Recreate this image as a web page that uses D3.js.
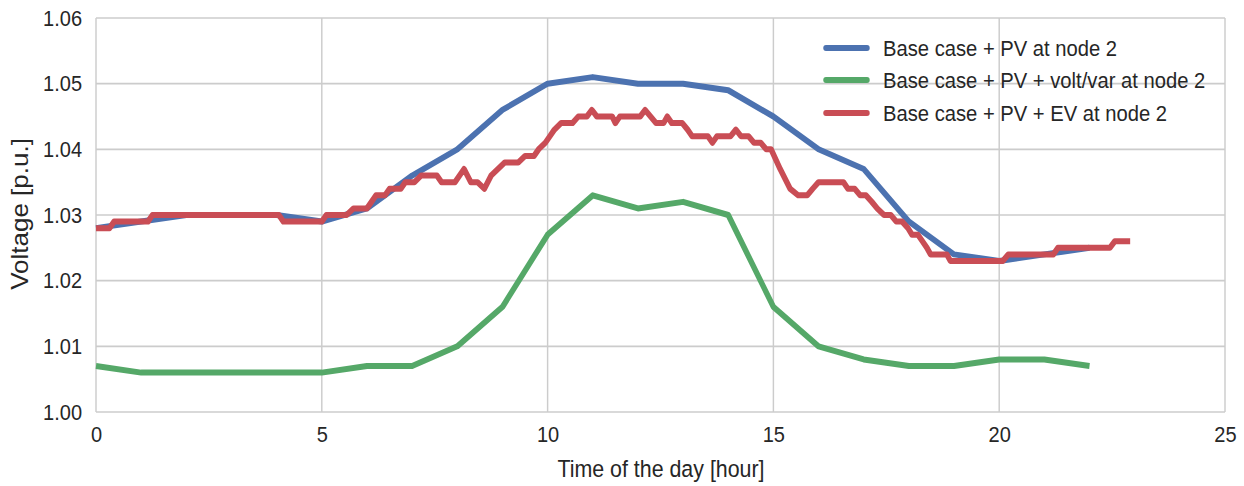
<!DOCTYPE html>
<html>
<head>
<meta charset="utf-8">
<script src="https://cdn.jsdelivr.net/npm/d3@7"></script>
<style>
  html, body { margin: 0; padding: 0; background: #fff; }
  svg { display: block; }
  text { font-family: "Liberation Sans", Arial, sans-serif; fill: #262626; }
</style>
</head>
<body>
<svg id="chart" width="1244" height="486"></svg>
<script>
// hourly series
var hours = [0, 1, 2, 3, 4, 5, 6, 7, 8, 9, 10, 11, 12, 13, 14, 15, 16, 17, 18, 19, 20, 21, 22];
var pvValues = [1.028, 1.029, 1.030, 1.030, 1.030, 1.029, 1.031, 1.036, 1.040, 1.046, 1.050, 1.051,
                1.050, 1.050, 1.049, 1.045, 1.040, 1.037, 1.029, 1.024, 1.023, 1.024, 1.025];
var voltVarValues = [1.007, 1.006, 1.006, 1.006, 1.006, 1.006, 1.007, 1.007, 1.010, 1.016, 1.027, 1.033,
                     1.031, 1.032, 1.030, 1.016, 1.010, 1.008, 1.007, 1.007, 1.008, 1.008, 1.007];

// EV case, finer time steps
var evHours = [0, 0.3, 0.4, 1.15, 1.25, 4.05, 4.15, 5.0, 5.1, 5.55, 5.7, 6.0, 6.1, 6.2, 6.4, 6.5, 6.75, 6.85,
               7.05, 7.2, 7.55, 7.65, 7.95, 8.15, 8.3, 8.45, 8.6, 8.75, 8.9, 9.05, 9.35, 9.5, 9.7, 9.8, 9.95,
               10.05, 10.15, 10.3, 10.55, 10.68, 10.87, 10.98, 11.09, 11.43, 11.5, 11.6, 12.05, 12.16, 12.28,
               12.4, 12.57, 12.65, 12.75, 12.98, 13.1, 13.2, 13.55, 13.65, 13.75, 14.05, 14.17, 14.28, 14.45,
               14.57, 14.72, 14.84, 14.95, 15.15, 15.37, 15.55, 15.75, 15.87, 16.0, 16.55, 16.65, 16.8, 16.92,
               17.05, 17.18, 17.3, 17.45, 17.6, 17.72, 17.85, 17.98, 18.07, 18.2, 18.3, 18.4, 18.48, 18.84,
               18.92, 20.08, 20.2, 21.2, 21.3, 22.45, 22.56, 22.9];
var evValues = [1.028, 1.028, 1.029, 1.029, 1.030, 1.030, 1.029, 1.029, 1.030, 1.030, 1.031, 1.031, 1.032,
                1.033, 1.033, 1.034, 1.034, 1.035, 1.035, 1.036, 1.036, 1.035, 1.035, 1.037, 1.035, 1.035,
                1.034, 1.036, 1.037, 1.038, 1.038, 1.039, 1.039, 1.040, 1.041, 1.042, 1.043, 1.044, 1.044,
                1.045, 1.045, 1.046, 1.045, 1.045, 1.044, 1.045, 1.045, 1.046, 1.045, 1.044, 1.044, 1.045,
                1.044, 1.044, 1.043, 1.042, 1.042, 1.041, 1.042, 1.042, 1.043, 1.042, 1.042, 1.041, 1.041,
                1.040, 1.040, 1.037, 1.034, 1.033, 1.033, 1.034, 1.035, 1.035, 1.034, 1.034, 1.033, 1.033,
                1.032, 1.031, 1.030, 1.030, 1.029, 1.029, 1.028, 1.027, 1.027, 1.026, 1.025, 1.024, 1.024,
                1.023, 1.023, 1.024, 1.024, 1.025, 1.025, 1.026, 1.026];

var xTicks = [0, 5, 10, 15, 20, 25];
var yTicks = [1.00, 1.01, 1.02, 1.03, 1.04, 1.05, 1.06];

var seriesNames = ["Base case + PV at node 2", "Base case + PV + volt/var at node 2", "Base case + PV + EV at node 2"];
var seriesColors = ["#4c72b0", "#55a868", "#c94d55"];

// the original is a bit squeezed sideways, draw in wider units and squash
var squeeze = 0.91;
var W = 1244 / squeeze, H = 486;
var margin = {top: 18, left: 96 / squeeze, right: W - 1225 / squeeze, bottom: H - 412};
var width = W - margin.left - margin.right;
var height = H - margin.top - margin.bottom;

var svg = d3.select("#chart")
    .attr("viewBox", "0 0 " + W + " " + H)
    .attr("preserveAspectRatio", "none");

var g = svg.append("g")
    .attr("transform", "translate(" + margin.left + "," + margin.top + ")");

var x = d3.scaleLinear().domain([0, 25]).range([0, width]);
var y = d3.scaleLinear().domain([1.00, 1.06]).range([height, 0]);

// grid
g.selectAll(".gx").data(xTicks).enter().append("line")
    .attr("x1", function(d) { return x(d); }).attr("x2", function(d) { return x(d); })
    .attr("y1", 0).attr("y2", height)
    .attr("stroke", "#cccccc").attr("stroke-width", 1.6);
g.selectAll(".gy").data(yTicks).enter().append("line")
    .attr("x1", 0).attr("x2", width)
    .attr("y1", function(d) { return y(d); }).attr("y2", function(d) { return y(d); })
    .attr("stroke", "#cccccc").attr("stroke-width", 1.6);

// axes (labels only)
var xAxis = g.append("g")
    .attr("transform", "translate(0," + height + ")")
    .call(d3.axisBottom(x).tickValues(xTicks).tickSize(0).tickPadding(14).tickFormat(d3.format("d")));
var yAxis = g.append("g")
    .call(d3.axisLeft(y).tickValues(yTicks).tickSize(0).tickPadding(14 / squeeze).tickFormat(d3.format(".2f")));
[xAxis, yAxis].forEach(function(a) {
    a.select(".domain").remove();
    a.selectAll("text").style("font-size", "22px").style("font-family", "'Liberation Sans', Arial, sans-serif").attr("fill", "#262626");
});

// lines
var line = d3.line()
    .x(function(d) { return x(d[0]); })
    .y(function(d) { return y(d[1]); });

var series = [
    d3.zip(hours, pvValues),
    d3.zip(hours, voltVarValues),
    d3.zip(evHours, evValues)
];

series.forEach(function(s, i) {
    g.append("path")
        .datum(s)
        .attr("d", line)
        .attr("fill", "none")
        .attr("stroke", seriesColors[i])
        .attr("stroke-width", 6)
        .attr("stroke-linejoin", "round")
        .attr("stroke-linecap", "butt");
});

// axis titles
svg.append("text")
    .attr("x", 661 / squeeze).attr("y", 477)
    .attr("text-anchor", "middle")
    .style("font-size", "23.5px")
    .text("Time of the day [hour]");
svg.append("text")
    .attr("transform", "translate(" + (28 / squeeze) + "," + 214 + ") rotate(-90)")
    .attr("text-anchor", "middle")
    .style("font-size", "26px")
    .text("Voltage [p.u.]");

// legend
var legendRows = [48, 80, 113];
var legend = svg.append("g");
seriesNames.forEach(function(name, i) {
    legend.append("line")
        .attr("x1", 826 / squeeze).attr("x2", 867 / squeeze)
        .attr("y1", legendRows[i]).attr("y2", legendRows[i])
        .attr("stroke", seriesColors[i]).attr("stroke-width", 6)
        .attr("stroke-linecap", "round");
    legend.append("text")
        .attr("x", 883 / squeeze).attr("y", legendRows[i] + 8)
        .style("font-size", "22.2px")
        .text(name);
});
</script>
</body>
</html>
